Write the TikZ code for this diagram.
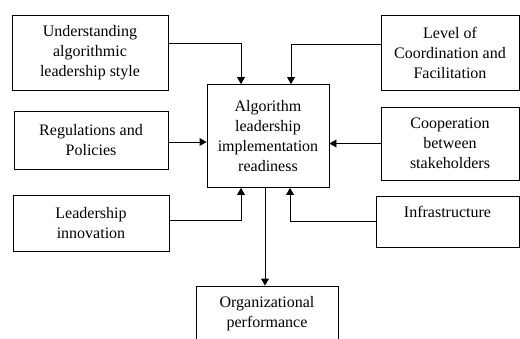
\documentclass[tikz,border=0pt]{standalone}
\usepackage{fontspec}
\setmainfont{Liberation Serif}
\usetikzlibrary{arrows}

\begin{document}
\begin{tikzpicture}[x=1pt,y=-1pt]
\tikzstyle{blocco} = [draw, line width=0.9pt, align=center, inner sep=0pt, font=\fontsize{16}{20}\selectfont]
\tikzstyle{freccia} = [-triangle 60, line width=0.9pt]
\useasboundingbox (0,0) rectangle (520,338);
\clip (0,0) rectangle (520,338);
% left column
\node[blocco, minimum width=156, minimum height=75] (u) at (90,52.5) {Understanding\\algorithmic\\leadership style};
\node[blocco, minimum width=154, minimum height=58] (r) at (91,140) {Regulations and\\Policies};
\node[blocco, minimum width=156, minimum height=56] (l) at (91,223) {Leadership\\innovation};
% centre
\node[blocco, minimum width=122, minimum height=103] (c) at (268,136) {Algorithm\\leadership\\implementation\\readiness};
\node[blocco, minimum width=142, minimum height=56] (o) at (267,314) {Organizational\\performance};
% right column
\node[blocco, minimum width=138, minimum height=75] (lc) at (450,52.5) {Level of\\Coordination and\\Facilitation};
\node[blocco, minimum width=138, minimum height=73] (co) at (450,143.5) {Cooperation\\between\\stakeholders};
\node[blocco, minimum width=143, minimum height=51] (inf) at (447.5,221.5) {Infrastructure\\~};
\draw[freccia] ([yshift=9.5pt]u.east) -| ([xshift=-27pt]c.north);
\draw[freccia] ([yshift=-2pt]r.east) -- ([yshift=-2pt]r.east -| c.west);
\draw[freccia] ([yshift=3pt]l.east) -| ([xshift=-27pt]c.south);
\draw[freccia] ([yshift=8.5pt]lc.west) -| ([xshift=23pt]c.north);
\draw[freccia] (co.west) -- (co.west -| c.east);
\draw[freccia] (inf.west) -| ([xshift=22pt]c.south);
\draw[freccia] ([xshift=-3pt]c.south) -- ([xshift=-3pt]c.south |- o.north);
\end{tikzpicture}
\end{document}
